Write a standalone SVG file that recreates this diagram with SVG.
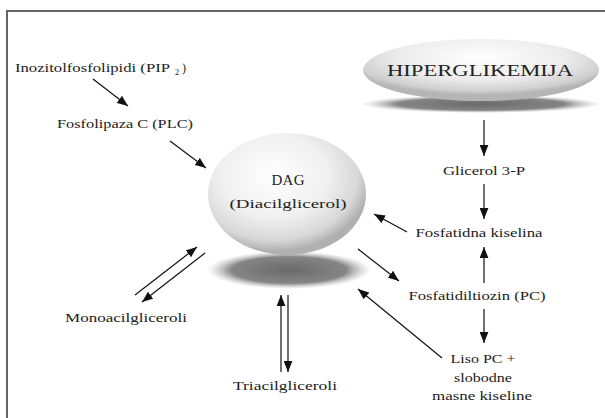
<svg xmlns="http://www.w3.org/2000/svg" width="605" height="418" viewBox="0 0 605 418">
<style>
text{font-family:"Liberation Serif","Times New Roman",serif;font-size:12px;fill:#222;text-anchor:middle}
.big{font-size:16px}
.c line{stroke:#111;stroke-width:1.2;marker-end:url(#ah)}
</style>
<defs>
<marker id="ah" viewBox="0 0 10 8" refX="10" refY="4" markerWidth="11" markerHeight="9" markerUnits="userSpaceOnUse" orient="auto">
<path d="M0,0 L10,4 L0,8 Z" fill="#111"/>
</marker>
<radialGradient id="ball" cx="0.42" cy="0.35" r="0.62">
<stop offset="0" stop-color="#ffffff"/>
<stop offset="0.55" stop-color="#f0f0f0"/>
<stop offset="0.85" stop-color="#d8d8d8"/>
<stop offset="1" stop-color="#b0b0b0"/>
</radialGradient>
<radialGradient id="pill" cx="0.5" cy="0.3" r="0.6">
<stop offset="0" stop-color="#ffffff"/>
<stop offset="0.6" stop-color="#ececec"/>
<stop offset="0.9" stop-color="#cfcfcf"/>
<stop offset="1" stop-color="#b5b5b5"/>
</radialGradient>
<radialGradient id="shad" cx="0.5" cy="0.5" r="0.5">
<stop offset="0" stop-color="#6a6a6a"/>
<stop offset="0.7" stop-color="#858585"/>
<stop offset="1" stop-color="#bdbdbd" stop-opacity="0"/>
</radialGradient>
</defs>
<rect width="605" height="418" fill="#fff"/>
<path d="M7,418 V11 H605" fill="none" stroke="#666" stroke-width="2"/>

<g id="hiperglikemija">
<ellipse cx="481" cy="104" rx="120" ry="9" fill="url(#shad)"/>
<ellipse cx="481" cy="70" rx="118" ry="31" fill="url(#pill)"/>
<text class="big" x="480" y="76" textLength="186" lengthAdjust="spacingAndGlyphs">HIPERGLIKEMIJA</text>
</g>

<g id="dag">
<ellipse cx="289" cy="270" rx="82" ry="19" fill="url(#shad)"/>
<ellipse cx="287" cy="194" rx="79" ry="61" fill="url(#ball)"/>
<text x="288" y="185" style="font-size:15px" textLength="33" lengthAdjust="spacing">DAG</text>
<text x="288" y="208" style="font-size:13px" textLength="117" lengthAdjust="spacingAndGlyphs">(Diacilglicerol)</text>
</g>

<g id="pip2"><text x="15" y="72" style="text-anchor:start" textLength="155" lengthAdjust="spacingAndGlyphs">Inozitolfosfolipidi (PIP</text><text x="177" y="75" style="font-size:8px">2</text><text x="184" y="72">)</text></g>
<g id="plc"><text x="125" y="128" textLength="136" lengthAdjust="spacingAndGlyphs">Fosfolipaza C (PLC)</text></g>
<g id="glicerol"><text x="484" y="175" textLength="82" lengthAdjust="spacingAndGlyphs">Glicerol 3-P</text></g>
<g id="fosfatidna"><text x="479" y="237" textLength="127" lengthAdjust="spacingAndGlyphs">Fosfatidna kiselina</text></g>
<g id="fosfatidiltiozin"><text x="477" y="300" textLength="137" lengthAdjust="spacingAndGlyphs">Fosfatidiltiozin (PC)</text></g>
<g id="lisopc">
<text x="483" y="363" textLength="65" lengthAdjust="spacingAndGlyphs">Liso PC +</text>
<text x="483" y="382" textLength="58" lengthAdjust="spacingAndGlyphs">slobodne</text>
<text x="482" y="400" textLength="100" lengthAdjust="spacingAndGlyphs">masne kiseline</text>
</g>
<g id="monoacil"><text x="126" y="322" textLength="122" lengthAdjust="spacingAndGlyphs">Monoacilgliceroli</text></g>
<g id="triacil"><text x="285" y="390" textLength="104" lengthAdjust="spacingAndGlyphs">Triacilgliceroli</text></g>

<g id="connectors" class="c">
<line x1="93" y1="79" x2="128" y2="106"/>
<line x1="170" y1="141" x2="206" y2="168"/>
<line x1="484" y1="120" x2="484" y2="156"/>
<line x1="484" y1="184" x2="484" y2="219"/>
<line x1="407" y1="232" x2="374" y2="214"/>
<line x1="484" y1="283" x2="484" y2="247"/>
<line x1="358" y1="249" x2="399" y2="281"/>
<line x1="484" y1="309" x2="484" y2="343"/>
<line x1="442" y1="358" x2="358" y2="289"/>
<line x1="135" y1="295" x2="197" y2="247"/>
<line x1="205" y1="253" x2="142" y2="302"/>
<line x1="281" y1="372" x2="281" y2="295"/>
<line x1="288" y1="295" x2="288" y2="372"/>
</g>
</svg>
